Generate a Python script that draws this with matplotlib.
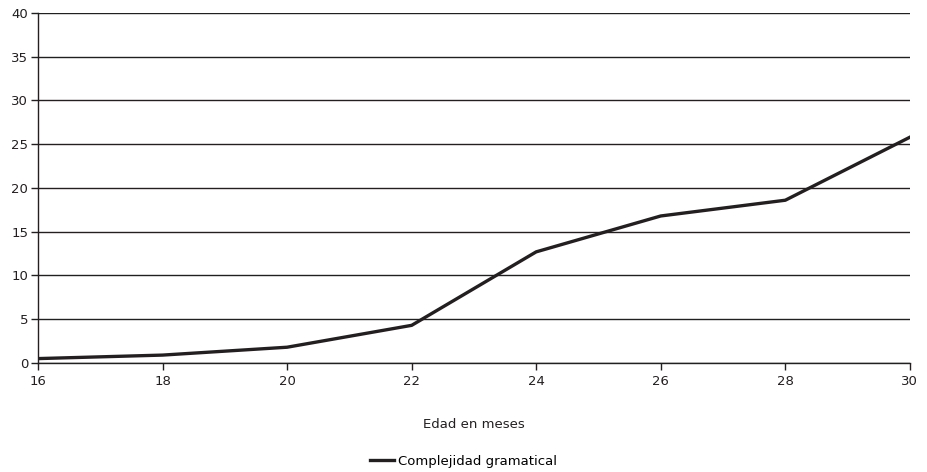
import matplotlib.pyplot as plt

meses = [16, 18, 20, 22, 24, 26, 28, 30]
complejidad = [0.5, 0.9, 1.8, 4.3, 12.7, 16.8, 18.6, 25.8]

plt.rcParams["font.family"] = ["DejaVu Sans"]

fig = plt.figure(figsize=(9.27, 4.72), dpi=100)
ax = fig.add_axes([0.041, 0.231, 0.9405, 0.7415])

ax.plot(meses, complejidad, color="#231f20", linewidth=2.4, label="Complejidad gramatical")
ax.set_xlim(16, 30)
ax.set_ylim(0, 40)
ax.set_xticks(range(16, 31, 2))
ax.set_yticks(range(0, 41, 5))
ax.yaxis.grid(True, color="#231f20", linewidth=1.0)
ax.set_axisbelow(True)
for s in ("top", "right"):
    ax.spines[s].set_visible(False)
for s in ("left", "bottom"):
    ax.spines[s].set_color("#231f20")
    ax.spines[s].set_linewidth(1.0)
ax.tick_params(axis="both", direction="out", length=5, width=1.0, color="#231f20",
               labelsize=9.5, labelcolor="#231f20")
ax.tick_params(axis="x", pad=4)
ax.tick_params(axis="y", pad=2)
ax.set_xlabel("Edad en meses", fontsize=9.5, color="#231f20", labelpad=21)

fig.legend(loc="center", bbox_to_anchor=(0.5, 0.022), frameon=False, fontsize=9.5,
           handlelength=1.8, handletextpad=0.3, borderpad=0)

fig.savefig("out.png", dpi=100)
